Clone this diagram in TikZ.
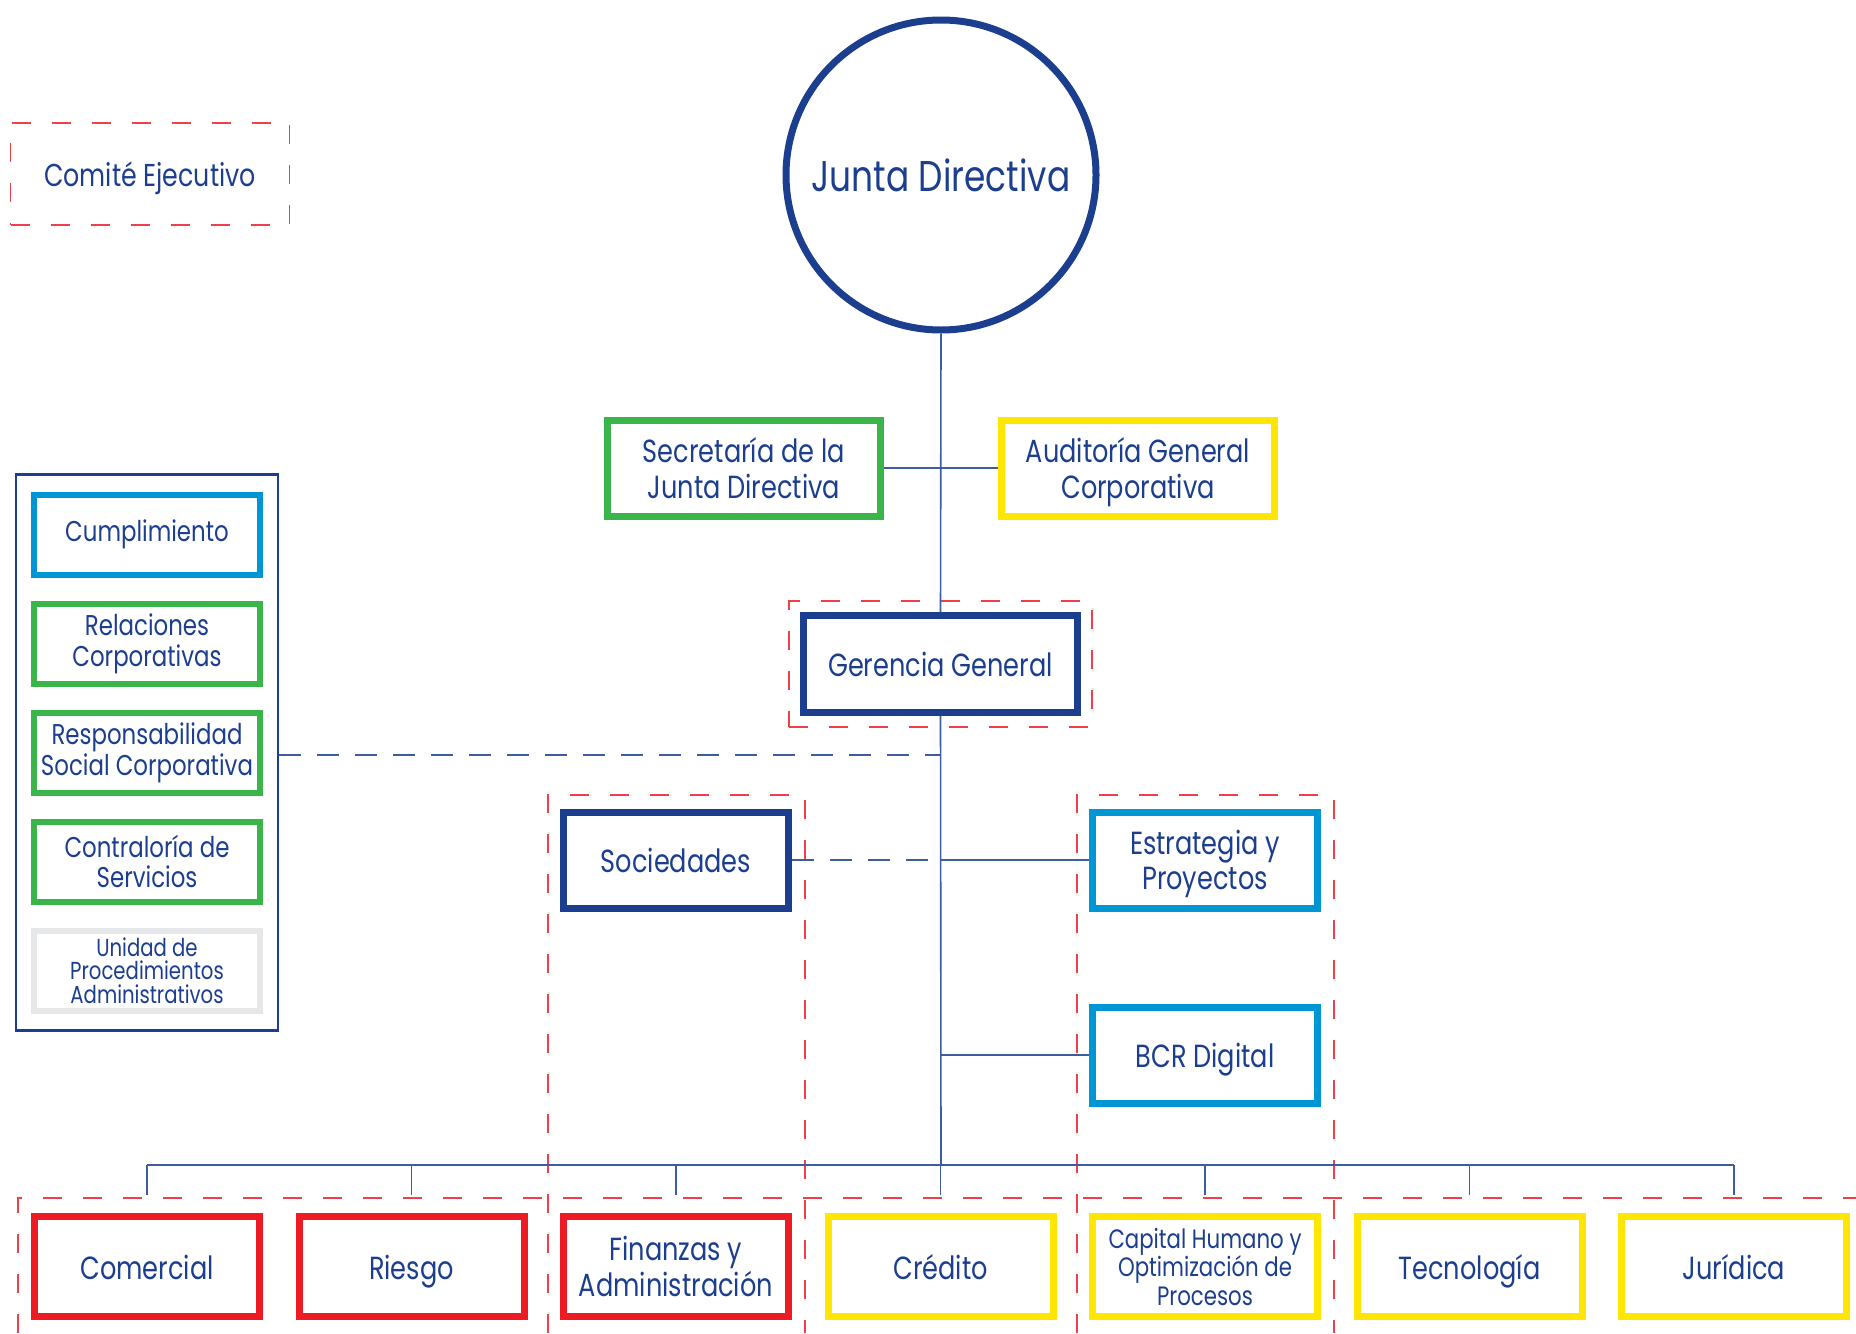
\documentclass[tikz,border=0pt]{standalone}
\usepackage{fontspec}
\setmainfont{Poppins}[FakeStretch=0.8]
\usepackage{xcolor}
\usetikzlibrary{positioning,fit}

\definecolor{bcrnavy}{RGB}{28,62,143}
\definecolor{bcrline}{RGB}{62,92,160}
\definecolor{bcrgreen}{RGB}{58,181,74}
\definecolor{bcryellow}{RGB}{255,230,0}
\definecolor{bcrred}{RGB}{237,28,36}
\definecolor{bcrcyan}{RGB}{0,150,214}
\definecolor{bcrgray}{RGB}{230,231,232}
\definecolor{bcrdash}{RGB}{239,64,74}

\begin{document}
\begin{tikzpicture}[
      x=1pt,y=1pt,
      node distance=11.5pt and 16.25pt,
      head/.style={circle,draw=bcrnavy,line width=3.5pt,minimum size=155pt,text=bcrnavy,font=\fontsize{21.5}{26}\selectfont},
      box/.style={draw,fill=white,line width=3.5pt,minimum width=136.75pt,minimum height=48pt,align=center,text depth=0pt,text=bcrnavy,font=\fontsize{16}{17.8}\selectfont},
      sbox/.style={box,minimum width=112.5pt},
      dept/.style={box,minimum width=112.5pt,minimum height=50pt},
      oneline/.style={text height=13pt,text depth=0.5pt},
      unit/.style={draw,fill=white,line width=3pt,minimum width=113pt,minimum height=40pt,align=center,text=bcrnavy,font=\fontsize{14.3}{15.4}\selectfont},
      link/.style={draw=bcrline,line width=0.8pt},
      bluedash/.style={draw=bcrline,line width=0.8pt,dash pattern=on 11pt off 8pt},
      reddash/.style={draw=bcrdash,line width=0.9pt,dash pattern=on 9.5pt off 10.5pt}
    ]
      \useasboundingbox (0,0) rectangle (928,-666.5);

      % Open dashed groups
      \draw[reddash] (274,-666.5) -- (274,-397.5) -- (402.5,-397.5) -- (402.5,-666.5);
      \draw[reddash] (538.5,-666.5) -- (538.5,-397.5) -- (667,-397.5) -- (667,-666.5);
      \draw[reddash] (9,-666.5) -- (9,-599) -- (928,-599);

      % Board and executive committee
      \node[head] (junta) at (470.5,-87.5) {Junta Directiva};
      \node[reddash,oneline,minimum width=139.5pt,minimum height=51pt,text=bcrnavy,font=\fontsize{15.8}{18}\selectfont] (comite) at (75,-87) {Comité Ejecutivo};

      % Staff of the board
      \node[box,draw=bcrgreen] (secretaria) at (372,-234) {Secretaría de la\\Junta Directiva};
      \node[box,draw=bcryellow] (auditoria) at (569,-234) {Auditoría General\\Corporativa};
      \node[box,oneline,draw=bcrnavy,minimum height=48.25pt] (gerencia) at (470.25,-332) {Gerencia General};
      \node[reddash,fit=(gerencia),inner sep=5.5pt] (gerenciagrp) {};

      % Support units
      \node[unit,draw=bcrcyan] (cumplimiento) at (73.5,-267.25) {Cumplimiento};
      \node[unit,draw=bcrgreen,below=of cumplimiento] (relaciones) {Relaciones\\Corporativas};
      \node[unit,draw=bcrgreen,below=of relaciones] (rsc) {Responsabilidad\\Social Corporativa};
      \node[unit,draw=bcrgreen,below=of rsc] (contraloria) {Contraloría de\\Servicios};
      \node[unit,draw=bcrgray,below=of contraloria,font=\fontsize{12.3}{11.8}\selectfont] (upa) {Unidad de\\Procedimientos\\Administrativos};
      \node[draw=bcrnavy,line width=1.25pt,fit=(cumplimiento) (upa),inner xsep=7.5pt,inner ysep=8.5pt] (panel) {};

      % Middle level
      \node[sbox,oneline,draw=bcrnavy] (sociedades) at (338,-430) {Sociedades};
      \node[sbox,draw=bcrcyan] (estrategia) at (602.5,-430) {Estrategia y\\Proyectos};
      \node[sbox,oneline,draw=bcrcyan] (digital) at (602.5,-527.5) {BCR Digital};

      % Business areas
      \node[dept,oneline,draw=bcrred] (comercial) at (73.5,-633.25) {Comercial};
      \node[dept,oneline,draw=bcrred,right=of comercial] (riesgo) {Riesgo};
      \node[dept,draw=bcrred,right=of riesgo] (finanzas) {Finanzas y\\Administración};
      \node[dept,oneline,draw=bcryellow,right=of finanzas] (credito) {Crédito};
      \node[dept,draw=bcryellow,right=of credito,font=\fontsize{13.3}{14.2}\selectfont] (capital) {Capital Humano y\\Optimización de\\Procesos};
      \node[dept,oneline,draw=bcryellow,right=of capital] (tecnologia) {Tecnología};
      \node[dept,oneline,draw=bcryellow,right=of tecnologia] (juridica) {Jurídica};

      % Trunk and branches
      \coordinate (split) at (470.5,-377.5);
      \coordinate (bus) at (470.5,-582.5);
      \draw[link] (junta.south) -- (gerencia.north);
      \draw[link] (gerencia.south) -- (bus);
      \draw[link] (secretaria.east) -- (auditoria.west);
      \draw[bluedash] (split -| panel.east) -- (split);
      \draw[bluedash] (sociedades.east) -- (sociedades.east -| bus);
      \draw[link] (estrategia.west -| bus) -- (estrategia.west);
      \draw[link] (digital.west -| bus) -- (digital.west);
      \draw[link] (bus -| comercial) -- (bus -| juridica);
      \foreach \d in {comercial,riesgo,finanzas,credito,capital,tecnologia,juridica}
        \draw[link] (bus -| \d) -- ([yshift=9pt]\d.north);
    \end{tikzpicture}
\end{document}
